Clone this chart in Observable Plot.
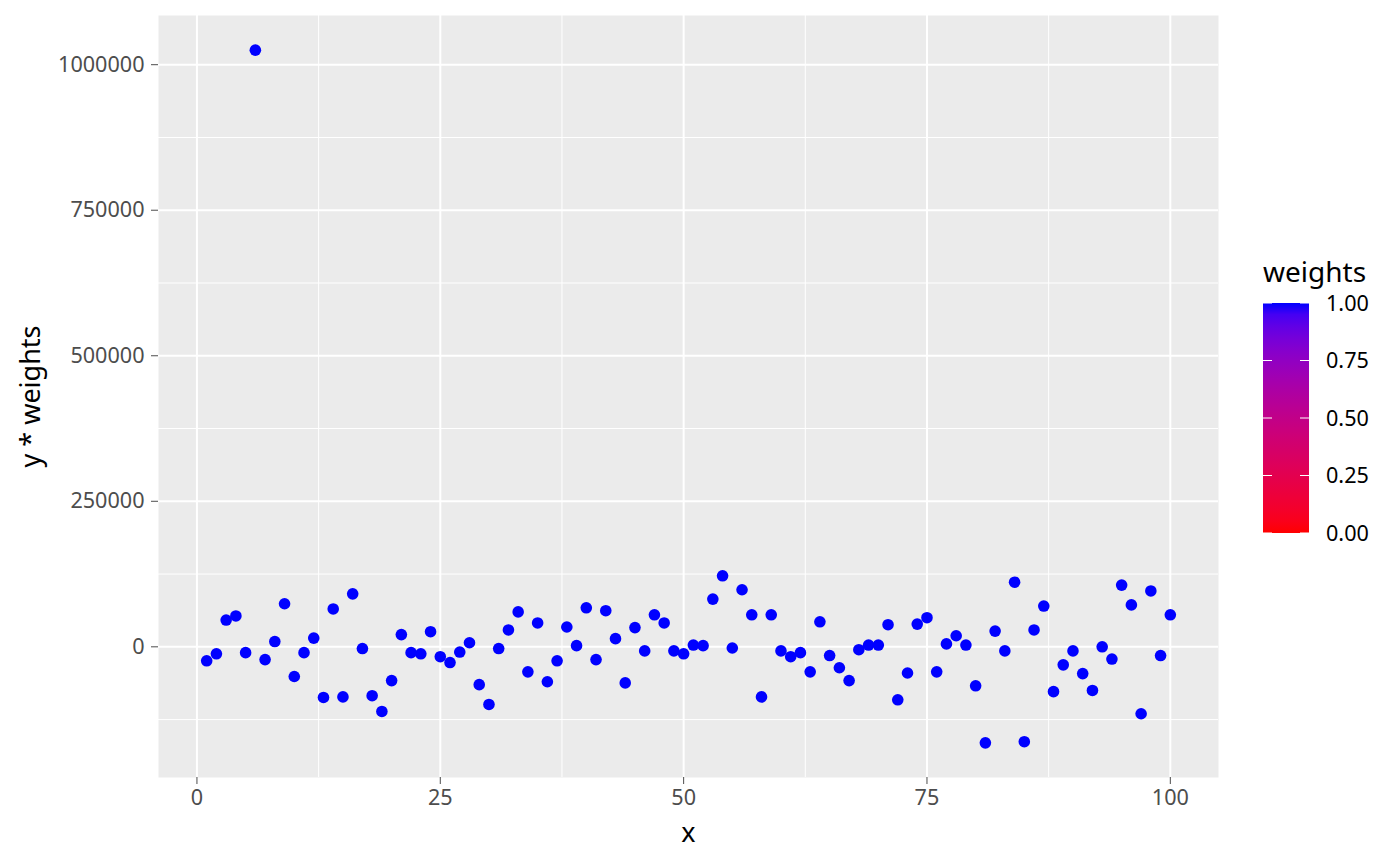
<!DOCTYPE html>
<html>
<head>
<meta charset="utf-8">
<script src="https://cdn.jsdelivr.net/npm/d3@7"></script>
<script src="https://cdn.jsdelivr.net/npm/@observablehq/plot@0.6"></script>
<style>
  body { margin: 0; background: white; font-family: "Noto Sans", sans-serif; }
  #wrap { position: relative; width: 1400px; height: 866px; }
  #legend { position: absolute; left: 0; top: 0; }
</style>
</head>
<body>
<div id="wrap"></div>
<script>
const xs = d3.range(1, 101);
const yValues = [
  -24000, -12000, 46000, 53000, -10000, 1025000, -22000, 9000, 74000, -51000,
  -10000, 15000, -87000, 65000, -86000, 91000, -3000, -84000, -111000, -58000,
  21000, -10000, -12000, 26000, -17000, -27000, -9000, 7000, -65000, -99000,
  -3000, 29000, 60000, -43000, 41000, -60000, -24000, 34000, 2000, 67000,
  -22000, 62000, 14000, -62000, 33000, -7000, 55000, 41000, -7000, -12000,
  3000, 2000, 82000, 122000, -2000, 98000, 55000, -86000, 55000, -7000,
  -17000, -10000, -43000, 43000, -15000, -36000, -58000, -5000, 3000, 3000,
  38000, -91000, -45000, 39000, 50000, -43000, 5000, 19000, 3000, -67000,
  -165000, 27000, -7000, 111000, -163000, 29000, 70000, -77000, -31000, -7000,
  -46000, -75000, 0, -21000, 106000, 72000, -115000, 96000, -15000, 55000
];
const weights = xs.map(() => 1);
const xMajor = [0, 25, 50, 75, 100];
const xMinor = [12.5, 37.5, 62.5, 87.5];
const yMajor = [0, 250000, 500000, 750000, 1000000];
const yMinor = [-125000, 125000, 375000, 625000, 875000];
const legendTicks = [0, 0.25, 0.5, 0.75, 1];

const data = xs.map((x, i) => ({x, y: yValues[i], w: weights[i]}));

const chart = Plot.plot({
  width: 1400,
  height: 866,
  marginLeft: 158,
  marginRight: 182,
  marginTop: 15,
  marginBottom: 89,
  style: {fontFamily: "Noto Sans", background: "white"},
  x: {domain: [-3.95, 104.95]},
  y: {domain: [-224500, 1084500]},
  color: {type: "linear", domain: [0, 1], range: ["red", "blue"], interpolate: "lab"},
  marks: [
    Plot.frame({fill: "#EBEBEB", stroke: null}),
    Plot.ruleX(xMinor, {stroke: "white", strokeWidth: 1}),
    Plot.ruleY(yMinor, {stroke: "white", strokeWidth: 1}),
    Plot.ruleX(xMajor, {stroke: "white", strokeWidth: 2}),
    Plot.ruleY(yMajor, {stroke: "white", strokeWidth: 2}),
    Plot.dot(data, {x: "x", y: "y", fill: "w", r: 5.8, stroke: null}),
    Plot.axisX({ticks: xMajor, tickSize: 7, tickPadding: 5, tickFormat: d => String(d), fontSize: 21.6, color: "#4D4D4D", label: null}),
    Plot.axisY({ticks: yMajor, tickSize: 7, tickPadding: 7, tickFormat: d => String(d), fontSize: 21.6, color: "#4D4D4D", label: null}),
    Plot.text(["x"], {frameAnchor: "bottom", textAnchor: "middle", lineAnchor: "middle", dy: 56, fontSize: 27, fill: "black"}),
    Plot.text(["y * weights"], {frameAnchor: "left", textAnchor: "middle", lineAnchor: "middle", dx: -127, rotate: -90, fontSize: 27, fill: "black"})
  ]
});
document.getElementById("wrap").appendChild(chart);

// Legend (vertical colourbar)
const barX = 1263, barW = 46, barTop = 303, barBottom = 533;
const ly = d3.scaleLinear().domain([0, 1]).range([barBottom, barTop]);
const lsvg = d3.select("#wrap").append("svg")
  .attr("id", "legend").attr("width", 1400).attr("height", 866)
  .style("font-family", "Noto Sans");
const grad = lsvg.append("defs").append("linearGradient")
  .attr("id", "lg").attr("x1", 0).attr("y1", 1).attr("x2", 0).attr("y2", 0);
d3.range(0, 1.0001, 0.05).forEach(t => {
  grad.append("stop").attr("offset", t).attr("stop-color", d3.interpolateLab("red", "blue")(t));
});
lsvg.append("text").attr("x", barX).attr("y", 282).attr("font-size", 28).attr("fill", "black").text("weights");
lsvg.append("rect").attr("x", barX).attr("y", barTop).attr("width", barW).attr("height", barBottom - barTop).attr("fill", "url(#lg)");
legendTicks.forEach(t => {
  lsvg.append("line").attr("x1", barX).attr("x2", barX + 9).attr("y1", ly(t)).attr("y2", ly(t)).attr("stroke", "white").attr("stroke-width", 1);
  lsvg.append("line").attr("x1", barX + barW - 9).attr("x2", barX + barW).attr("y1", ly(t)).attr("y2", ly(t)).attr("stroke", "white").attr("stroke-width", 1);
  lsvg.append("text").attr("x", 1326).attr("y", ly(t)).attr("dy", "0.35em").attr("font-size", 21.6).attr("fill", "black").text(t.toFixed(2));
});
</script>
</body>
</html>
